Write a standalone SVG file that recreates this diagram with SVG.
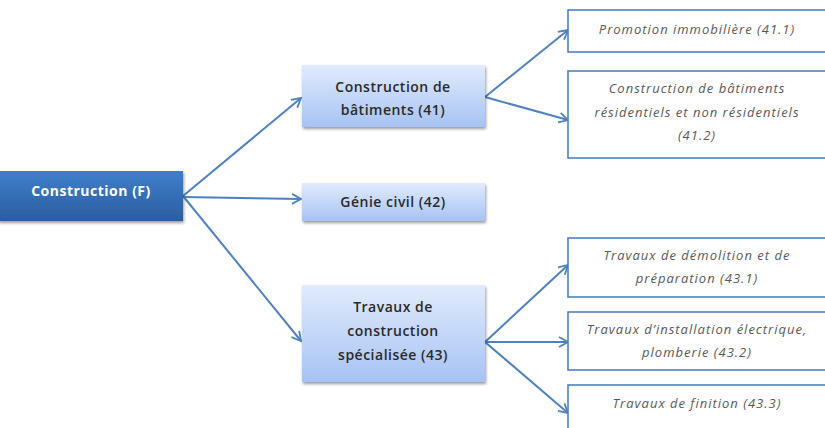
<svg xmlns="http://www.w3.org/2000/svg" width="825" height="428" viewBox="0 0 825 428">
<defs>
<linearGradient id="gDark" x1="0" y1="0" x2="0" y2="1">
<stop offset="0" stop-color="#3f7fcc"/>
<stop offset="1" stop-color="#2b5d9f"/>
</linearGradient>
<linearGradient id="gLight" x1="0" y1="0" x2="0" y2="1">
<stop offset="0" stop-color="#e1ebfc"/>
<stop offset="1" stop-color="#a7c3f4"/>
</linearGradient>
<filter id="sh" x="-10%" y="-10%" width="125%" height="140%">
<feGaussianBlur in="SourceAlpha" stdDeviation="1.5"/>
<feOffset dx="1" dy="2" result="b"/>
<feComponentTransfer><feFuncA type="linear" slope="0.4"/></feComponentTransfer>
<feMerge><feMergeNode/><feMergeNode in="SourceGraphic"/></feMerge>
</filter>
<marker id="arr" markerWidth="14" markerHeight="14" refX="10" refY="6" orient="auto" markerUnits="userSpaceOnUse">
<path d="M1,1 L10,6 L1,11" fill="none" stroke="#4f81c2" stroke-width="1.8"/>
</marker>
</defs>
<style>
.conn{stroke:#4f81c2;stroke-width:2;fill:none;marker-end:url(#arr)}
.mid{fill:url(#gLight)}
.mt{font-family:"Open Sans","Liberation Sans",sans-serif;font-size:14px;font-weight:600;letter-spacing:0.5px;fill:#2a2a2a;text-anchor:middle}
.leaf{fill:#ffffff;stroke:#4f81bd;stroke-width:1.6}
.lt{font-family:"Open Sans","Liberation Sans",sans-serif;font-size:13px;letter-spacing:1px;font-style:italic;fill:#595959;text-anchor:middle}
</style>
<rect width="825" height="428" fill="#ffffff"/>
<g id="connectors">
<line class="conn" x1="183" y1="196" x2="301" y2="98"/>
<line class="conn" x1="183" y1="197" x2="301" y2="199"/>
<line class="conn" x1="183" y1="196" x2="301" y2="341"/>
<line class="conn" x1="485" y1="97" x2="568" y2="30"/>
<line class="conn" x1="485" y1="97" x2="568" y2="120"/>
<line class="conn" x1="485" y1="342" x2="568" y2="265"/>
<line class="conn" x1="485" y1="342" x2="568" y2="342"/>
<line class="conn" x1="485" y1="342" x2="568" y2="413"/>
</g>
<g id="nF">
<rect x="-2" y="171" width="185" height="50" fill="url(#gDark)" filter="url(#sh)"/>
<text x="91" y="196" font-family="'Open Sans','Liberation Sans',sans-serif" font-size="14" font-weight="bold" letter-spacing="0.5" fill="#ffffff" text-anchor="middle">Construction (F)</text>
</g>
<g id="n41">
<rect class="mid" x="302" y="65" width="183" height="62" filter="url(#sh)"/>
<text class="mt" x="393" y="92">Construction de</text>
<text class="mt" x="393" y="115">bâtiments (41)</text>
</g>
<g id="n42">
<rect class="mid" x="302" y="183" width="183" height="38" filter="url(#sh)"/>
<text class="mt" x="393" y="207">Génie civil (42)</text>
</g>
<g id="n43">
<rect class="mid" x="302" y="285" width="183" height="97" filter="url(#sh)"/>
<text class="mt" x="393" y="312">Travaux de</text>
<text class="mt" x="393" y="336">construction</text>
<text class="mt" x="393" y="360">spécialisée (43)</text>
</g>
<g id="n41_1">
<rect class="leaf" x="568" y="10" width="270" height="42"/>
<text class="lt" x="697" y="34">Promotion immobilière (41.1)</text>
</g>
<g id="n41_2">
<rect class="leaf" x="568" y="71" width="270" height="87"/>
<text class="lt" x="697" y="93">Construction de bâtiments</text>
<text class="lt" x="697" y="117">résidentiels et non résidentiels</text>
<text class="lt" x="697" y="140">(41.2)</text>
</g>
<g id="n43_1">
<rect class="leaf" x="568" y="238" width="270" height="59"/>
<text class="lt" x="697" y="260">Travaux de démolition et de</text>
<text class="lt" x="697" y="283">préparation (43.1)</text>
</g>
<g id="n43_2">
<rect class="leaf" x="568" y="312" width="270" height="58"/>
<text class="lt" x="697" y="334">Travaux d’installation électrique,</text>
<text class="lt" x="697" y="357">plomberie (43.2)</text>
</g>
<g id="n43_3">
<rect class="leaf" x="568" y="385" width="270" height="60"/>
<text class="lt" x="697" y="408">Travaux de finition (43.3)</text>
</g>
</svg>
